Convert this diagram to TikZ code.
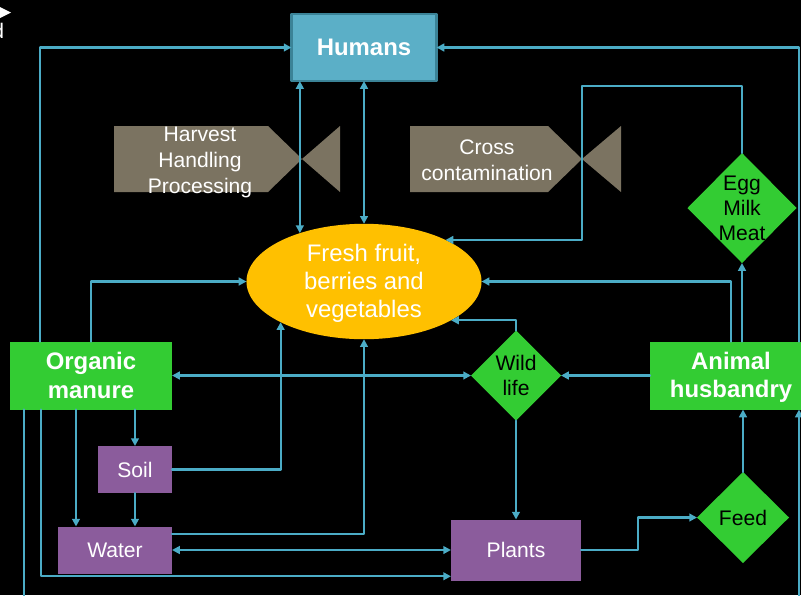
\documentclass[tikz,border=0pt]{standalone}
\usepackage{fontspec}
\setmainfont{Liberation Sans}
\usetikzlibrary{shapes.geometric,arrows.meta}
\definecolor{linkblue}{HTML}{4BACC6}
\definecolor{humanblue}{HTML}{5BAFC7}
\definecolor{humanedge}{HTML}{3B8397}
\definecolor{boxgreen}{HTML}{33CC33}
\definecolor{boxpurple}{HTML}{8B5C9C}
\definecolor{bowgray}{HTML}{7B7361}
\definecolor{ovalgold}{HTML}{FFC000}
\begin{document}
\begin{tikzpicture}[x=0.025cm, y=-0.025cm, line join=round, line cap=round,
		>={Triangle[length=5.5pt,width=5.5pt]},
		link/.style={draw=linkblue, line width=1.5pt},
		bigbox/.style={fill=boxgreen, text=white, font=\fontsize{17}{20}\selectfont\bfseries, align=center, minimum width=4.05cm, minimum height=1.7cm, inner sep=0pt, outer sep=0pt},
		smallbox/.style={fill=boxpurple, text=white, font=\fontsize{15}{18}\selectfont, minimum height=1.175cm, inner sep=0pt, outer sep=0pt},
		choice/.style={diamond, fill=boxgreen, inner sep=0pt, outer sep=0pt},
		choicetext/.style={text=black, font=\fontsize{15}{17.7}\selectfont, align=center},
		bowtie/.style={fill=bowgray},
		bowtext/.style={text=white, font=\fontsize{15}{18.5}\selectfont, align=center}]
	\useasboundingbox (0,0) rectangle (801,595);
	\fill[black] (0,0) rectangle (801,595);
	\fill[white] (0,7) -- (11,12.5) -- (0,18) -- cycle;
	\node[anchor=east, inner sep=0pt, text=white, font=\fontsize{15}{18}\selectfont] (corner) at (4.5,31) {d};
	\fill[bowtie] (114,126) -- (268,126) -- (302,159) -- (340,126) -- (340,192) -- (302,159) -- (268,192) -- (114,192) -- cycle;
	\fill[bowtie] (410,126) -- (548,126) -- (582,159) -- (621,126) -- (621,192) -- (582,159) -- (548,192) -- (410,192) -- cycle;
	\node[bowtext] (harvest) at (200,162) {Harvest\\Handling\\Processing};
	\node[bowtext] (cross) at (487,160) {Cross\\contamination};
	\node[fill=humanblue, draw=humanedge, line width=1.5pt, text=white, font=\fontsize{17}{20}\selectfont\bfseries, minimum width=3.625cm, minimum height=1.675cm, inner sep=0pt, outer sep=0pt] (humans) at (364,47.5) {Humans};
	\node[ellipse, fill=ovalgold, text=white, font=\fontsize{17}{20}\selectfont, align=center, minimum width=5.875cm, minimum height=2.75cm, inner sep=0pt, outer sep=0pt] (fresh) at (364,281.5) {\rule{0pt}{14.5pt}Fresh fruit,\\berries and\\vegetables};
	\node[bigbox] (organic) at (91,375.5) {Organic\\manure};
	\node[bigbox] (husbandry) at (731,375.5) {\rule{0pt}{15pt}Animal\\husbandry};
	\node[smallbox, minimum width=1.85cm] (soil) at (135,469.5) {Soil};
	\node[smallbox, minimum width=2.85cm] (water) at (115,550) {Water};
	\node[smallbox, minimum width=3.25cm, minimum height=1.525cm] (plants) at (516,550) {Plants};
	\node[choice, minimum width=2.25cm, minimum height=2.25cm, label={[choicetext]center:Wild\\life}] (wild) at (516,375.5) {};
	\node[choice, minimum width=2.3cm, minimum height=2.275cm, label={[choicetext]center:Feed}] (feed) at (743,517.5) {};
	\node[choice, minimum width=2.725cm, minimum height=2.75cm, label={[choicetext]center:Egg\\Milk\\Meat}] (egg) at (742,208) {};
	\draw[link,->] (40,0 |- organic.north) |- (humans.west);
	\draw[link,->] (799,0 |- husbandry.north) |- (humans.east);
	\draw[link,<->] (fresh.143 |- humans.south) -- (fresh.143);
	\draw[link,<->] (humans.south) -- (fresh.north);
	\draw[link,->] (organic.north) |- (fresh.west);
	\draw[link,->] (egg.north) |- (582,86) |- (fresh.27);
	\draw[link,->] (husbandry.north) |- (fresh.east);
	\draw[link,->] (egg.south |- husbandry.north) -- (egg.south);
	\draw[link,->] (wild.north) |- (fresh.336);
	\draw[link,<->] (organic.east) -- (wild.west);
	\draw[link,->] (husbandry.west) -- (wild.east);
	\draw[link,->] (wild.south) -- (plants.north);
	\draw[link,->] (soil.east) -| (fresh.206);
	\draw[link,->] (water.16) -| (fresh.south);
	\draw[link,<->] (water.east) -- (plants.west);
	\draw[link,->] (41,0 |- organic.south) |- (plants.202);
	\draw[link,->] (76,0 |- organic.south) -- (76,0 |- water.north);
	\draw[link,->] (soil.north |- organic.south) -- (soil.north);
	\draw[link,->] (soil.south) -- (soil.south |- water.north);
	\draw[link,->] (plants.east) -- ++(57,0) |- (feed.west);
	\draw[link,->] (feed.north) -- (feed.north |- husbandry.south);
	\draw[link,->] (24,0 |- organic.south) -- (24,605) -| (799,0 |- husbandry.south);
\end{tikzpicture}
\end{document}
